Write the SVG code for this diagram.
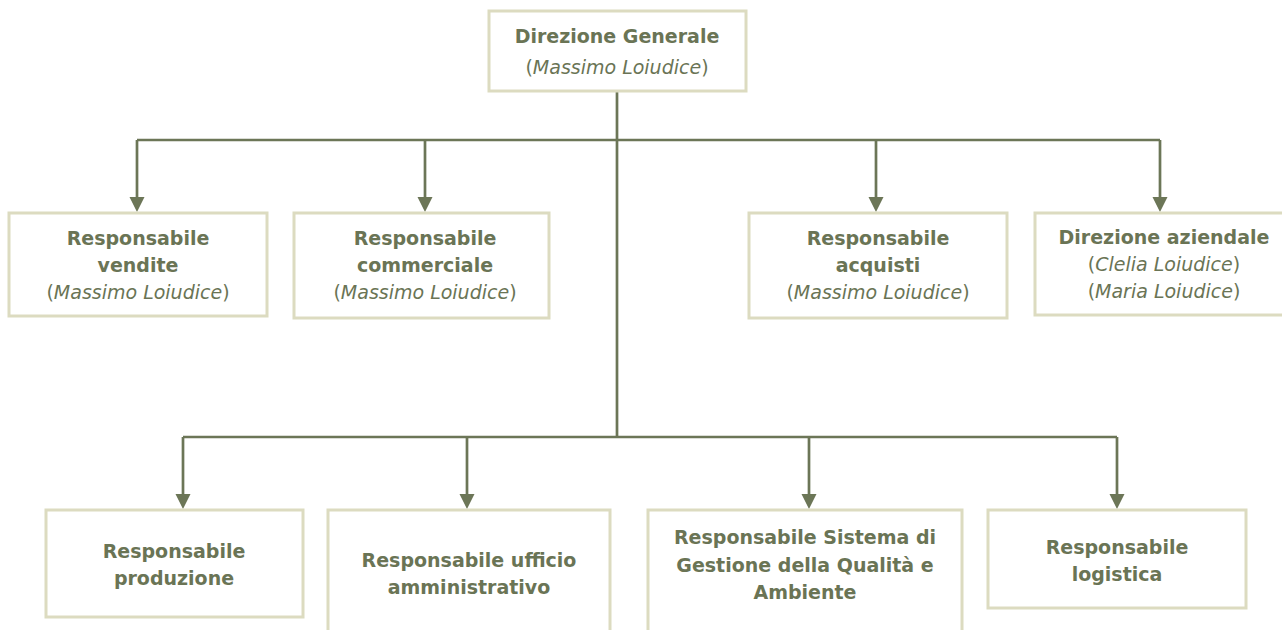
<svg xmlns="http://www.w3.org/2000/svg" width="1282" height="630" viewBox="0 0 1282 630">
<style>
.box{fill:#ffffff;stroke:#dcdbc0;stroke-width:3}
.t{font-family:"DejaVu Sans",Verdana,sans-serif;font-size:19px;fill:#6a7455;text-anchor:middle}
.b{font-weight:bold}
.i{font-style:italic}
.ln{fill:none;stroke:#6c7657;stroke-width:2.7}
</style>
<rect width="1282" height="630" fill="#ffffff"/>
<g id="connectors">
<path class="ln" d="M617,92 V437"/>
<path class="ln" d="M137,140 H1160"/>
<path class="ln" d="M137,140 V198"/>
<path class="ln" d="M425,140 V198"/>
<path class="ln" d="M876,140 V198"/>
<path class="ln" d="M1160,140 V198"/>
<path class="ln" d="M183,437 H1117"/>
<path class="ln" d="M183,437 V495"/>
<path class="ln" d="M467,437 V495"/>
<path class="ln" d="M809,437 V495"/>
<path class="ln" d="M1117,437 V495"/>
<path d="M129.5,197 H144.5 L137,212 Z M417.5,197 H432.5 L425,212 Z M868.5,197 H883.5 L876,212 Z M1152.5,197 H1167.5 L1160,212 Z M175.5,494 H190.5 L183,509 Z M459.5,494 H474.5 L467,509 Z M801.5,494 H816.5 L809,509 Z M1109.5,494 H1124.5 L1117,509 Z" fill="#6c7657"/>
</g>
<g id="n-dg">
<rect class="box" x="489" y="11" width="257" height="80"/>
<text class="t b" x="617" y="43">Direzione Generale</text>
<text class="t" x="617" y="74">(<tspan class="i">Massimo Loiudice</tspan>)</text>
</g>
<g id="n-vendite">
<rect class="box" x="9" y="213" width="258" height="103"/>
<text class="t b" x="138" y="245">Responsabile</text>
<text class="t b" x="138" y="272">vendite</text>
<text class="t" x="138" y="299">(<tspan class="i">Massimo Loiudice</tspan>)</text>
</g>
<g id="n-commerciale">
<rect class="box" x="294" y="213" width="255" height="105"/>
<text class="t b" x="425" y="245">Responsabile</text>
<text class="t b" x="425" y="272">commerciale</text>
<text class="t" x="425" y="299">(<tspan class="i">Massimo Loiudice</tspan>)</text>
</g>
<g id="n-acquisti">
<rect class="box" x="749" y="213" width="258" height="105"/>
<text class="t b" x="878" y="245">Responsabile</text>
<text class="t b" x="878" y="272">acquisti</text>
<text class="t" x="878" y="299">(<tspan class="i">Massimo Loiudice</tspan>)</text>
</g>
<g id="n-direzione-aziendale">
<rect class="box" x="1035" y="213" width="258" height="102"/>
<text class="t b" x="1164" y="244">Direzione aziendale</text>
<text class="t" x="1164" y="271">(<tspan class="i">Clelia Loiudice</tspan>)</text>
<text class="t" x="1164" y="298">(<tspan class="i">Maria Loiudice</tspan>)</text>
</g>
<g id="n-produzione">
<rect class="box" x="46" y="510" width="257" height="107"/>
<text class="t b" x="174" y="558">Responsabile</text>
<text class="t b" x="174" y="585">produzione</text>
</g>
<g id="n-amministrativo">
<rect class="box" x="328" y="510" width="282" height="130"/>
<text class="t b" x="469" y="567">Responsabile ufficio</text>
<text class="t b" x="469" y="594">amministrativo</text>
</g>
<g id="n-qualita">
<rect class="box" x="648" y="510" width="314" height="130"/>
<text class="t b" x="805" y="544">Responsabile Sistema di</text>
<text class="t b" x="805" y="572">Gestione della Qualità e</text>
<text class="t b" x="805" y="599">Ambiente</text>
</g>
<g id="n-logistica">
<rect class="box" x="988" y="510" width="258" height="98"/>
<text class="t b" x="1117" y="554">Responsabile</text>
<text class="t b" x="1117" y="581">logistica</text>
</g>
</svg>
